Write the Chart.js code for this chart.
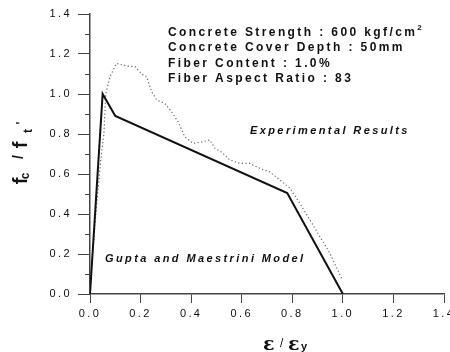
<!DOCTYPE html>
<html>
<head>
<meta charset="utf-8">
<script src="https://cdn.jsdelivr.net/npm/chart.js@4"></script>
<style>
  body { margin: 0; background: #fff; }
  #wrap { width: 450px; height: 352px; }
</style>
</head>
<body>
<div id="wrap"><canvas id="stress-chart" width="450" height="352"></canvas></div>
<script>
// Gupta and Maestrini model (solid line)
const modelX = [0, 0.05, 0.10, 0.78, 1.0];
const modelY = [0, 1.0, 0.89, 0.505, 0];

const expX = [0, 0.005, 0.01, 0.02, 0.03, 0.045, 0.055, 0.062, 0.079, 0.105, 0.145, 0.178, 0.204, 0.224,
  0.244, 0.264, 0.296, 0.323, 0.349, 0.375, 0.408, 0.441, 0.474, 0.494, 0.52, 0.553, 0.593, 0.632,
  0.672, 0.711, 0.751, 0.79, 0.83, 0.87, 0.909, 0.949, 0.995];
const expY = [0, 0.1, 0.2, 0.35, 0.5, 0.7, 0.8, 1.0, 1.087, 1.153, 1.14, 1.137, 1.10, 1.087,
  1.01, 0.97, 0.953, 0.91, 0.86, 0.786, 0.753, 0.76, 0.77, 0.728, 0.71, 0.67, 0.653, 0.653,
  0.628, 0.61, 0.57, 0.53, 0.453, 0.37, 0.287, 0.203, 0.078];

const axisMin = 0, axisMax = 1.4, majorStep = 0.2, minorStep = 0.1;

const infoLines = [
  'Concrete Strength : 600 kgf/cm',
  'Concrete Cover Depth : 50mm',
  'Fiber Content : 1.0%',
  'Fiber Aspect Ratio : 83'
];

const toPoints = (xs, ys) => xs.map((x, i) => ({ x: x, y: ys[i] }));
const SANS = '"Liberation Sans", Arial, sans-serif';

const textPlugin = {
  id: 'textPlugin',
  beforeDraw(chart) {
    chart.ctx.letterSpacing = '2.4px';
  },
  afterDraw(chart) {
    const ctx = chart.ctx;
    ctx.save();
    ctx.fillStyle = '#111';
    ctx.letterSpacing = '2.4px';
    ctx.textBaseline = 'middle';
    ctx.textAlign = 'left';

    ctx.font = 'bold 12px ' + SANS;
    const rows = [33, 48, 64, 79];
    infoLines.forEach((t, i) => ctx.fillText(t, 168, rows[i]));
    const w = ctx.measureText(infoLines[0]).width;
    ctx.font = 'bold 8px ' + SANS;
    ctx.fillText('2', 168 + w, 28);

    ctx.font = 'italic bold 11px ' + SANS;
    ctx.fillText('Experimental Results', 250, 131);
    ctx.fillText('Gupta and Maestrini Model', 105, 259);

    // x axis title: ε / εy
    ctx.letterSpacing = '0px';
    ctx.textBaseline = 'alphabetic';
    ctx.font = 'bold 19px "DejaVu Serif", serif';
    ctx.fillText('ε', 263, 350);
    ctx.fillText('ε', 288, 350);
    ctx.font = '12px ' + SANS;
    ctx.fillText('/', 280, 347);
    ctx.font = 'bold 11px ' + SANS;
    ctx.fillText('y', 301, 350);

    // y axis title: fc / ft'
    ctx.translate(27, 190);
    ctx.rotate(-Math.PI / 2);
    ctx.textAlign = 'center';
    ctx.font = 'bold 20px ' + SANS;
    ctx.fillText('f', 9, 0);
    ctx.fillText('f', 45, 0);
    ctx.font = 'bold 12px ' + SANS;
    ctx.fillText('c', 14, 2);
    ctx.fillText('t', 59, 5);
    ctx.fillText("'", 67, -2);
    ctx.font = 'bold 14px ' + SANS;
    ctx.fillText('/', 33, -4);
    ctx.restore();
  }
};

const ctx = document.getElementById('stress-chart').getContext('2d');
const chart = new Chart(ctx, {
  type: 'line',
  data: {
    datasets: [{
      label: 'Gupta and Maestrini Model',
      data: toPoints(modelX, modelY),
      borderColor: '#111',
      borderWidth: 2,
      pointRadius: 0,
      tension: 0
    }, {
      label: 'Experimental Results',
      data: toPoints(expX, expY),
      borderColor: '#666',
      borderWidth: 1.2,
      borderDash: [1.2, 2.4],
      pointRadius: 0,
      tension: 0
    }]
  },
  options: {
    responsive: false,
    animation: false,
    devicePixelRatio: 1,
    layout: { padding: { top: 14, right: 6, left: 0, bottom: 0 } },
    plugins: { legend: { display: false }, tooltip: { enabled: false } },
    scales: {
      x: {
        type: 'linear',
        min: axisMin,
        max: axisMax,
        afterFit: s => { s.height = 58; s.paddingLeft = 0; s.paddingRight = 0; },
        ticks: {
          stepSize: majorStep,
          color: '#111',
          padding: 4,
          font: { family: SANS, size: 11 },
          callback: v => v.toFixed(1),
          maxRotation: 0
        },
        grid: { drawOnChartArea: false, tickLength: 9, color: '#444' },
        border: { color: '#444', width: 1.5 }
      },
      y: {
        min: axisMin,
        max: axisMax,
        weight: 1,
        afterFit: s => { s.width = 90; s.paddingTop = 0; s.paddingBottom = 0; },
        ticks: {
          stepSize: majorStep,
          color: '#111',
          padding: 6,
          font: { family: SANS, size: 11 },
          callback: v => v.toFixed(1)
        },
        grid: { drawOnChartArea: false, tickLength: 12, color: '#444' },
        border: { color: '#444', width: 1.5 }
      },
      yMinor: {
        position: 'left',
        min: axisMin,
        max: axisMax,
        weight: 0,
        afterFit: s => { s.width = 0; s.paddingTop = 0; s.paddingBottom = 0; },
        ticks: { stepSize: minorStep, display: false },
        grid: { drawOnChartArea: false, tickLength: 5, color: '#444' },
        border: { display: false }
      }
    }
  },
  plugins: [textPlugin]
});
</script>
</body>
</html>
